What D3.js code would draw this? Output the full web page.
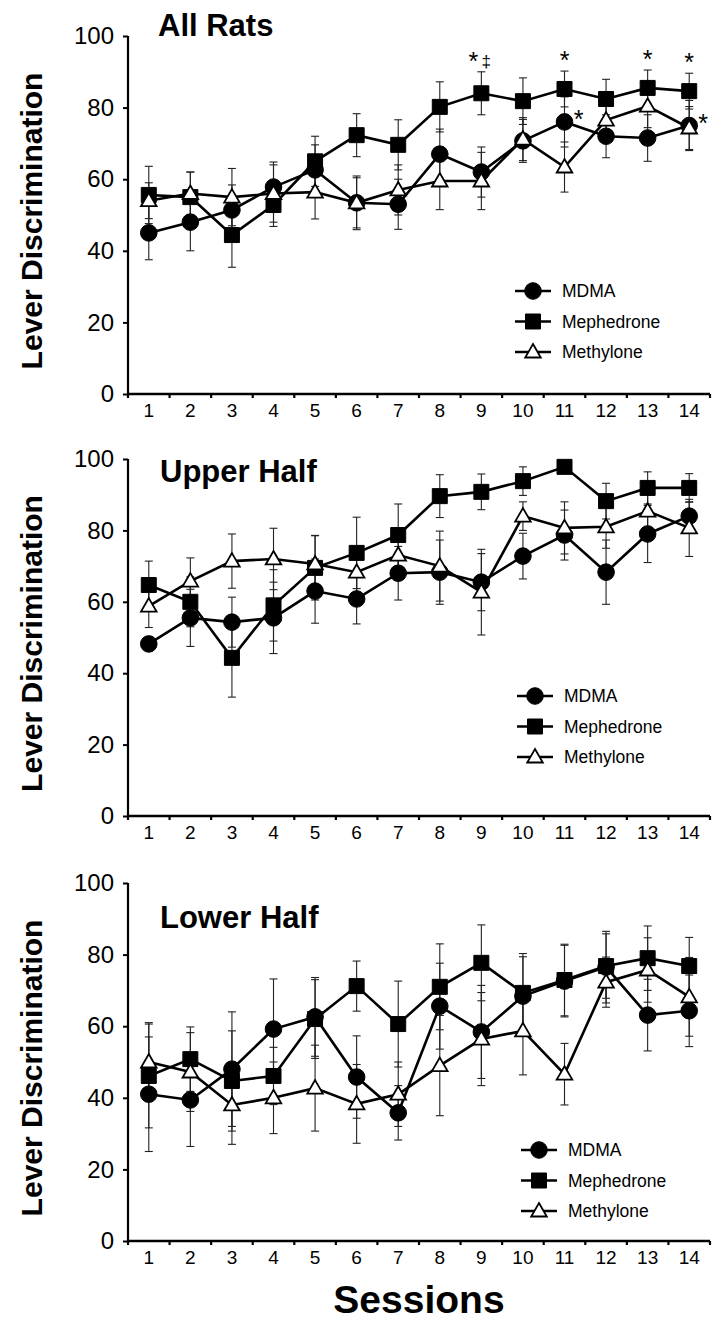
<!DOCTYPE html>
<html lang="en">
<head>
<meta charset="UTF-8">
<title>Lever Discrimination by Session</title>
<script src="https://cdnjs.cloudflare.com/ajax/libs/d3/7.8.5/d3.min.js"></script>
<style>
    body {
        margin: 0;
        background: #fff;
    }
    svg {
        display: block;
        font-family: "Liberation Sans", Arial, sans-serif;
    }
    .y-axis text { font-size: 24px; }
    .x-axis text { font-size: 19px; }
    .legend text { font-size: 17.5px; }
</style>
</head>
<body>
<div id="chart"></div>

<script>
// sessions on the x axis
const sessions = [1, 2, 3, 4, 5, 6, 7, 8, 9, 10, 11, 12, 13, 14];
const drugs = ["MDMA", "Mephedrone", "Methylone"];
const yTicks = [0, 20, 40, 60, 80, 100];

// All Rats
const allMdma = [45, 48, 51.4, 57.8, 62.6, 53.4, 53, 67, 62, 70.7, 76, 72, 71.5, 75];
const allMdmaErr = [7.5, 8, 7, 7, 7, 7, 7, 7, 7, 6, 7, 6, 6.5, 7];
const allMeph = [55.6, 55, 44.4, 52.8, 65, 72.3, 69.6, 80.2, 84, 81.8, 85.2, 82.4, 85.5, 84.6];
const allMephErr = [8, 7, 9, 6, 7, 6, 7, 7, 6, 6.5, 5, 5.5, 5, 5];
const allMeth = [54, 56, 55, 56, 56.4, 53.4, 57, 59.5, 59.5, 71.2, 63.4, 76.5, 80.4, 74.3];
const allMethErr = [5, 6, 8, 8, 7.5, 7.5, 7, 8, 8, 6, 7, 6, 6, 6];

// Upper Half
const upMdma = [48.2, 55.5, 54.3, 55.5, 63, 60.8, 68, 68.3, 65.5, 72.8, 78.7, 68.3, 79, 84];
const upMdmaErr = [2, 8, 7, 10, 9, 7, 7.5, 9, 8, 6.4, 7, 9, 8, 4];
const upMeph = [64.7, 60, 44.3, 59, 69.5, 73.7, 78.7, 89.6, 90.8, 93.8, 97.8, 88.2, 91.9, 91.9];
const upMephErr = [6.7, 7, 11, 10, 9, 10, 8.7, 6, 5, 4, 1, 5, 4.5, 4];
const upMeth = [58.8, 65.8, 71.4, 72, 70.6, 68.3, 73.1, 70, 62.7, 84, 80.7, 81, 85.4, 80.7];
const upMethErr = [6, 6.5, 7.6, 8.6, 8, 7, 7, 9.8, 12, 4, 7.3, 6, 5, 8];

// Lower Half
const lowMdma = [41, 39.4, 48, 59.2, 62.6, 45.8, 35.8, 65.6, 58.4, 68.4, 72.6, 76.5, 63.1, 64.3];
const lowMdmaErr = [16, 13, 16, 14, 11, 11.5, 7.6, 12, 13, 11, 10, 10, 10, 10];
const lowMeph = [46.1, 50.8, 44.7, 46.1, 62, 71.2, 60.6, 71, 77.7, 69.3, 72.9, 76.8, 79, 76.8];
const lowMephErr = [14.5, 9, 14, 8, 11, 7, 12, 12, 10.6, 11, 10, 9, 9, 8];
const lowMeth = [50, 47.2, 38, 40, 42.7, 38.3, 41, 49, 56.4, 58.7, 46.6, 72.3, 75.7, 68.2];
const lowMethErr = [11, 11, 11, 10, 12, 11, 9, 14, 13, 12.3, 8.6, 7, 9, 11];

// significance marks in All Rats: [session, drug, symbol, placement]
const marks = [
    [9, "Mephedrone", "*", "above"],
    [9, "Mephedrone", "\u2021", "above2"],
    [11, "Mephedrone", "*", "above"],
    [13, "Mephedrone", "*", "above"],
    [14, "Mephedrone", "*", "above"],
    [11, "MDMA", "*", "right"],
    [14, "MDMA", "*", "right"]
];

const panels = [
    { title: "All Rats", top: 36, bottom: 394, titleX: 158, titleY: 36, legX: 533, legY: 291,
      series: [[allMdma, allMdmaErr], [allMeph, allMephErr], [allMeth, allMethErr]], marks: marks },
    { title: "Upper Half", top: 459, bottom: 816, titleX: 160, titleY: 482, legX: 535, legY: 696,
      series: [[upMdma, upMdmaErr], [upMeph, upMephErr], [upMeth, upMethErr]], marks: [] },
    { title: "Lower Half", top: 883, bottom: 1241, titleX: 160, titleY: 928, legX: 539, legY: 1150,
      series: [[lowMdma, lowMdmaErr], [lowMeph, lowMephErr], [lowMeth, lowMethErr]], marks: [] }
];

const width = 712, height = 1323;
const left = 128, right = 710;

const svg = d3.select("#chart").append("svg")
    .attr("width", width)
    .attr("height", height);
svg.append("rect").attr("width", width).attr("height", height).attr("fill", "#fff");

const x = d3.scaleBand().domain(sessions).range([left, right]);
const cx = s => x(s) + x.bandwidth() / 2;

const symbols = {
    MDMA: d3.symbol().type(d3.symbolCircle).size(Math.PI * 8.3 * 8.3),
    Mephedrone: d3.symbol().type(d3.symbolSquare).size(15 * 15),
    Methylone: d3.symbol().type(d3.symbolTriangle).size(105)
};
const fills = { MDMA: "#000", Mephedrone: "#000", Methylone: "#fff" };

function drawMarker(g, drug, px, py) {
    g.append("path")
        .attr("d", symbols[drug]())
        .attr("transform", `translate(${px},${py + (drug === "Methylone" ? 1 : 0)})`)
        .attr("fill", fills[drug])
        .attr("stroke", "#000")
        .attr("stroke-width", drug === "Methylone" ? 1.8 : 1);
}

panels.forEach(p => {
    const g = svg.append("g");
    const y = d3.scaleLinear().domain([0, 100]).range([p.bottom, p.top]);

    // y axis
    const yAxis = g.append("g")
        .attr("class", "y-axis")
        .attr("transform", `translate(${left},0)`)
        .call(d3.axisLeft(y).tickValues(yTicks).tickSize(5).tickPadding(9));
    yAxis.select(".domain").attr("stroke-width", 2.2).attr("d", `M0,${p.top}V${p.bottom}`);
    yAxis.selectAll(".tick line").attr("stroke-width", 2);
    yAxis.selectAll("text").attr("fill", "#000");

    // x axis: labels at band centres, ticks at band edges
    const xAxis = g.append("g")
        .attr("class", "x-axis")
        .attr("transform", `translate(0,${p.bottom})`)
        .call(d3.axisBottom(x).tickSize(0).tickPadding(10));
    xAxis.select(".domain").attr("stroke-width", 2.6).attr("d", `M${left},0H${right}`);
    xAxis.selectAll("text").attr("fill", "#000");
    const edges = sessions.map(s => x(s)).concat([right]);
    xAxis.selectAll(".edge")
        .data(edges)
        .enter()
        .append("line")
        .attr("x1", d => d).attr("x2", d => d)
        .attr("y1", 0).attr("y2", 4)
        .attr("stroke", "#000")
        .attr("stroke-width", 2.2);

    // axis title
    g.append("text")
        .attr("transform", `translate(42,${(p.top + p.bottom) / 2 + 6}) rotate(-90)`)
        .attr("text-anchor", "middle")
        .attr("font-size", 30)
        .attr("font-weight", "bold")
        .text("Lever Discrimination");

    // panel title
    g.append("text")
        .attr("x", p.titleX)
        .attr("y", p.titleY)
        .attr("font-size", 31)
        .attr("font-weight", "bold")
        .text(p.title);

    // error bars
    p.series.forEach(([vals, errs]) => {
        vals.forEach((v, i) => {
            const px = cx(sessions[i]);
            const y1 = y(v + errs[i]), y2 = y(v - errs[i]);
            g.append("line").attr("x1", px).attr("x2", px).attr("y1", y1).attr("y2", y2)
                .attr("stroke", "#222").attr("stroke-width", 1.1);
            [y1, y2].forEach(yy => g.append("line")
                .attr("x1", px - 4).attr("x2", px + 4).attr("y1", yy).attr("y2", yy)
                .attr("stroke", "#222").attr("stroke-width", 1.1));
        });
    });

    // lines
    const line = d3.line().x((d, i) => cx(sessions[i])).y(d => y(d));
    p.series.forEach(([vals]) => {
        g.append("path")
            .attr("d", line(vals))
            .attr("fill", "none")
            .attr("stroke", "#000")
            .attr("stroke-width", 2.6);
    });

    // markers
    p.series.forEach(([vals], k) => {
        vals.forEach((v, i) => drawMarker(g, drugs[k], cx(sessions[i]), y(v)));
    });

    // significance marks
    p.marks.forEach(([s, drug, sym, where]) => {
        const k = drugs.indexOf(drug);
        const [vals, errs] = p.series[k];
        const i = sessions.indexOf(s);
        let tx = cx(s), ty;
        if (where === "right") {
            tx += 14;
            ty = y(vals[i]) + 6;
        } else {
            ty = y(vals[i] + errs[i]) - 2;
            if (where === "above") tx -= sessions.indexOf(s) === 8 ? 8 : 0;
            if (where === "above2") { tx += 5; ty -= 3; }
        }
        g.append("text")
            .attr("x", tx)
            .attr("y", ty)
            .attr("text-anchor", "middle")
            .attr("font-size", sym === "*" ? 25 : 17)
            .text(sym);
    });

    // legend
    const leg = g.append("g").attr("class", "legend");
    drugs.forEach((d, k) => {
        const ly = p.legY + k * 30.5;
        leg.append("line")
            .attr("x1", p.legX - 18).attr("x2", p.legX + 18)
            .attr("y1", ly).attr("y2", ly)
            .attr("stroke", "#000").attr("stroke-width", 2.6);
        drawMarker(leg, d, p.legX, ly);
        leg.append("text")
            .attr("x", p.legX + 29)
            .attr("y", ly)
            .attr("dy", "0.35em")
            .text(d);
    });
});

// shared x title
svg.append("text")
    .attr("x", (left + right) / 2)
    .attr("y", 1313)
    .attr("text-anchor", "middle")
    .attr("font-size", 39)
    .attr("font-weight", "bold")
    .text("Sessions");
</script>
</body>
</html>
